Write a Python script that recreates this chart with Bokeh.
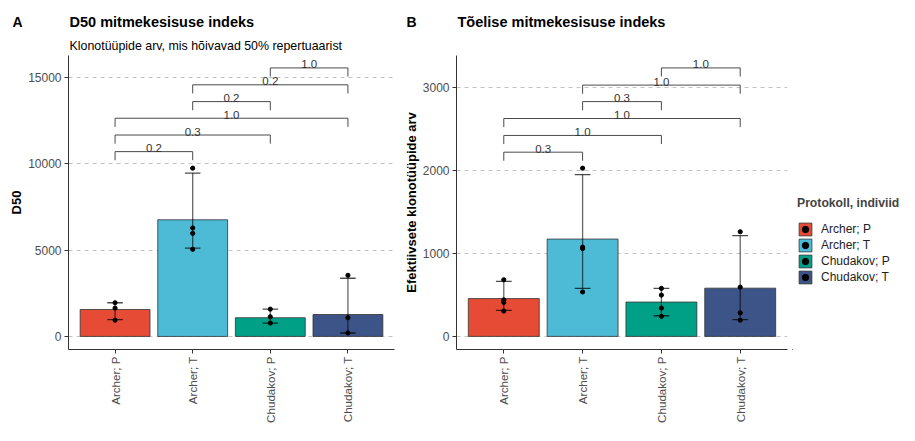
import math
from bokeh.plotting import figure
from bokeh.layouts import row, column
from bokeh.models import (Range1d, FixedTicker, Label, Legend, LegendItem)
from bokeh.embed import file_html
from bokeh.resources import INLINE

FONT = "Liberation Sans"

categories = ["Archer; P", "Archer; T", "Chudakov; P", "Chudakov; T"]
colors = ["#E64B35", "#4DBBD5", "#00A087", "#3C5488"]

# Panel A: D50
d50_mean = [1560, 6757, 1083, 1270]
d50_err_low = [972, 5116, 773, 199]
d50_err_high = [1952, 9464, 1580, 3370]
d50_points = [[1952, 1637, 940], [9747, 6281, 5971, 5048], [1580, 1138, 775], [3540, 1085, 200]]
d50_yticks = [0, 5000, 10000, 15000]
d50_br_x1 = [3, 2, 2, 1, 1, 1]
d50_br_x2 = [4, 4, 3, 4, 3, 2]
d50_br_y = [15552, 14574, 13601, 12639, 11666, 10704]
d50_br_lab = ["1.0", "0.2", "0.2", "1.0", "0.3", "0.2"]

# Panel B: true diversity
div_mean = [456, 1174, 414, 582]
div_err_low = [314, 579, 249, 203]
div_err_high = [663, 1952, 579, 1216]
div_points = [[683, 441, 410, 306], [2029, 1077, 1059, 536], [579, 498, 341, 242], [1262, 594, 283, 196]]
div_yticks = [0, 1000, 2000, 3000]
div_br_x1 = [3, 2, 2, 1, 1, 1]
div_br_x2 = [4, 4, 3, 4, 3, 2]
div_br_y = [3238, 3031, 2832, 2628, 2424, 2222]
div_br_lab = ["1.0", "1.0", "0.3", "1.0", "1.0", "0.3"]

TOP_H = 54
PLOT_H = 425 - TOP_H
WA, WB, WL = 395, 397, 107


def blank_fig(w, h):
    f = figure(width=w, height=h, output_backend="svg", toolbar_location=None,
               x_range=Range1d(0, w), y_range=Range1d(0, h),
               min_border_left=0, min_border_right=0, min_border_top=0, min_border_bottom=0)
    f.axis.visible = False
    f.grid.visible = False
    f.outline_line_color = None
    return f


def make_panel(width, left, right, means, lo, hi, pts, yticks, ys, ye,
               bx1, bx2, by, blab, tick_len, ylabel):
    p = figure(width=width, height=PLOT_H, output_backend="svg", toolbar_location=None,
               x_range=Range1d(0.4, 4.6), y_range=Range1d(ys, ye),
               min_border_left=left, min_border_right=right,
               min_border_top=1, min_border_bottom=60)
    p.outline_line_color = None
    p.xgrid.grid_line_color = None
    p.ygrid.grid_line_color = "#c4c4c4"
    p.ygrid.grid_line_dash = "4 4"
    p.ygrid.grid_line_width = 1
    p.ygrid.ticker = FixedTicker(ticks=yticks)

    p.xaxis.ticker = FixedTicker(ticks=[1, 2, 3, 4])
    p.xaxis.major_label_overrides = {i + 1: c for i, c in enumerate(categories)}
    p.xaxis.major_label_orientation = math.pi / 2
    p.yaxis.ticker = FixedTicker(ticks=yticks)
    for ax in (p.xaxis, p.yaxis):
        ax.axis_line_color = "#333333"
        ax.axis_line_width = 1
        ax.major_tick_line_color = "#333333"
        ax.major_tick_in = 0
        ax.major_tick_out = 4
        ax.minor_tick_line_color = None
        ax.major_label_text_font = FONT
        ax.major_label_text_font_size = "12px"
        ax.major_label_text_color = "#4d4d4d"
        ax.major_label_standoff = 3
    p.xaxis.major_label_text_font_size = "11.6px"
    p.yaxis.axis_label = ylabel
    p.yaxis.axis_label_text_font = FONT
    p.yaxis.axis_label_text_font_style = "bold"
    p.yaxis.axis_label_text_font_size = "13px"
    p.yaxis.axis_label_text_color = "black"
    p.yaxis.axis_label_standoff = 1

    xs = [1, 2, 3, 4]
    p.vbar(x=xs, top=means, bottom=0, width=0.9, fill_color=colors,
           line_color="#333333", line_width=0.8)
    # error bars
    p.segment(x0=xs, y0=lo, x1=xs, y1=hi, line_color="black", line_alpha=0.6, line_width=1.3)
    p.segment(x0=[x - 0.1 for x in xs], y0=lo, x1=[x + 0.1 for x in xs], y1=lo,
              line_color="black", line_alpha=0.7, line_width=1.3)
    p.segment(x0=[x - 0.1 for x in xs], y0=hi, x1=[x + 0.1 for x in xs], y1=hi,
              line_color="black", line_alpha=0.7, line_width=1.3)
    px, py = [], []
    for i in range(4):
        px += [xs[i]] * len(pts[i])
        py += pts[i]
    p.scatter(x=px, y=py, size=4.2, color="black")

    # brackets
    bxs = [[a, a, b, b] for a, b in zip(bx1, bx2)]
    bys = [[y - tick_len, y, y, y - tick_len] for y in by]
    p.multi_line(xs=bxs, ys=bys, line_color="#4a4a4a", line_width=1)
    p.text(x=[(a + b) / 2 for a, b in zip(bx1, bx2)], y=by, text=blab,
           text_align="center", text_baseline="alphabetic", y_offset=-3.5,
           text_font=dict(value=FONT), text_font_size="11.5px", text_color="#333333")
    return p


A_ys, A_ye = -757, 16272
B_ys, B_ye = -158, 3388

pA = make_panel(WA, 68, 1, d50_mean, d50_err_low, d50_err_high, d50_points,
                d50_yticks, A_ys, A_ye, d50_br_x1, d50_br_x2, d50_br_y, d50_br_lab,
                500, "D50")
pB = make_panel(WB, 61, 5, div_mean, div_err_low, div_err_high, div_points,
                div_yticks, B_ys, B_ye, div_br_x1, div_br_x2, div_br_y, div_br_lab,
                104, "Efektiivsete klonotüüpide arv")


def put(f, x, y_from_top, text, size, bold):
    f.add_layout(Label(x=x, y=TOP_H - y_from_top, text=text, text_font=FONT,
                       text_font_size=size, text_font_style="bold" if bold else "normal",
                       text_baseline="middle", text_align="left", text_color="black"))


tA = blank_fig(WA, TOP_H)
put(tA, 12, 21, "A", "14px", True)
put(tA, 69, 21, "D50 mitmekesisuse indeks", "14.5px", True)
put(tA, 69, 45, "Klonotüüpide arv, mis hõivavad 50% repertuaarist", "12.4px", False)
tB = blank_fig(WB + WL, TOP_H)
put(tB, 11, 21, "B", "14px", True)
put(tB, 62, 21, "Tõelise mitmekesisuse indeks", "14.5px", True)

# legend panel
pL = blank_fig(WL, PLOT_H)
items = []
for i in range(4):
    rb = pL.vbar(x=[-50], top=[-40], bottom=-60, width=1, fill_color=colors[i],
                 line_color="#333333", line_width=0.8)
    rd = pL.scatter(x=[-50], y=[-50], size=4, color="black")
    items.append(LegendItem(label=categories[i], renderers=[rb, rd]))
legend = Legend(items=items, location=(5, 64), title="Protokoll, indiviid",
                title_text_font=FONT, title_text_font_style="bold", title_text_font_size="12.2px",
                title_standoff=11, label_text_font=FONT, label_text_font_size="12px",
                label_text_color="#222222",
                glyph_width=16, glyph_height=16, label_height=16, spacing=0, padding=0, margin=0,
                label_standoff=8, border_line_color=None, background_fill_alpha=0)
pL.add_layout(legend)

layout = column(row(tA, tB, spacing=0), row(pA, pB, pL, spacing=0), spacing=0)
open("out.html", "w").write(file_html(layout, INLINE))
